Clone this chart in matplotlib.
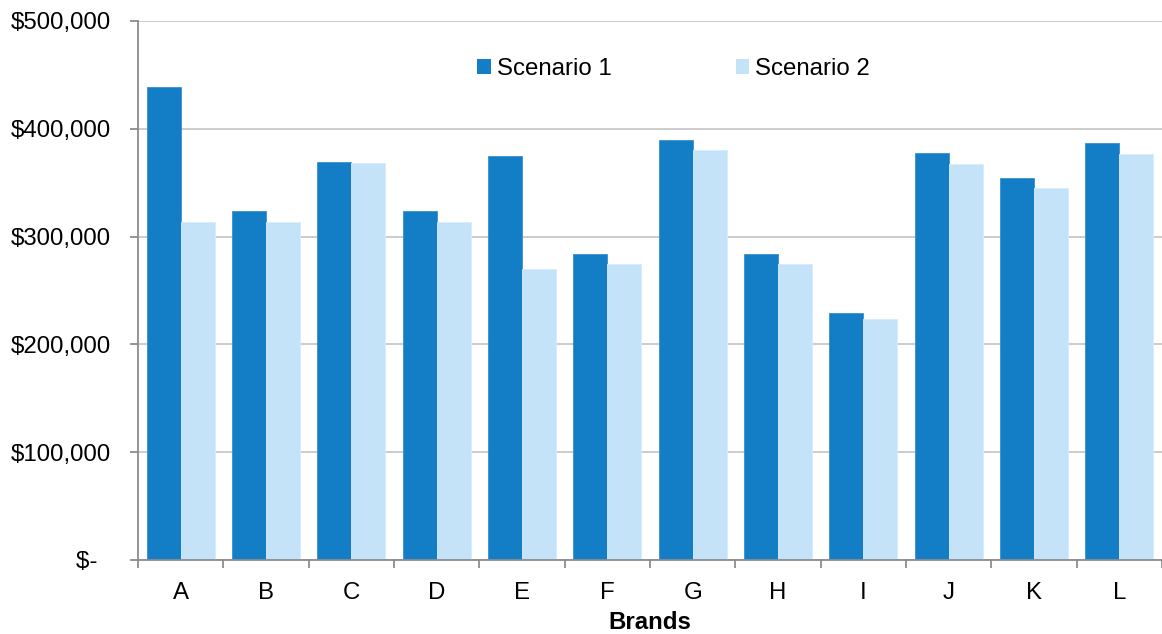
import matplotlib
matplotlib.use("Agg")
import matplotlib.pyplot as plt
import numpy as np
from matplotlib.patches import Patch
from matplotlib.ticker import FuncFormatter, FixedLocator

brands = ["A", "B", "C", "D", "E", "F", "G", "H", "I", "J", "K", "L"]
scenario1 = [438500, 323500, 369000, 323500, 374500, 284000, 390000, 284000, 229000, 377500, 354000, 386500]
scenario2 = [314000, 314000, 368500, 314000, 269500, 274500, 380000, 274500, 223500, 367500, 345000, 376500]
series_names = ["Scenario 1", "Scenario 2"]
colors = ["#137DC6", "#C5E3F8"]

plt.rcParams['font.family'] = ['Liberation Sans', 'DejaVu Sans']
FS = 17.3

fig = plt.figure(figsize=(11.62, 6.34), dpi=100)
ax = fig.add_axes([138/1162, 1-560/634, 1-138/1162, (560-21)/634])

x = np.arange(len(brands))
w = 0.4
ax.bar(x - w/2, scenario1, width=w, color=colors[0], edgecolor="#3a8fd0", linewidth=0.6, zorder=3)
ax.bar(x + w/2, scenario2, width=w, color=colors[1], edgecolor="#d8ecfa", linewidth=0.6, zorder=3)

ax.set_xlim(-0.5, len(brands) - 0.5)
ax.set_ylim(0, 500000)
ax.set_yticks(np.arange(0, 500001, 100000))

def fmt(v, pos):
    if v == 0:
        return "$-  "
    return "${:,.0f}".format(v)
ax.yaxis.set_major_formatter(FuncFormatter(fmt))

ax.set_xticks(x)
ax.set_xticklabels(brands)
ax.xaxis.set_minor_locator(FixedLocator(np.arange(-0.5, len(brands), 1.0)))
ax.tick_params(axis='x', which='major', length=0, pad=16, labelsize=FS)
ax.tick_params(axis='x', which='minor', length=5.5, width=1.3, color="#8c8c8c", direction='out')
ax.tick_params(axis='y', which='major', length=5.5, width=1.3, color="#8c8c8c", pad=14, labelsize=FS)

ax.grid(axis='y', color="#c4c4c4", linewidth=1.2, zorder=0)
ax.set_axisbelow(True)
for s in ["top", "right"]:
    ax.spines[s].set_visible(False)
for s in ["left", "bottom"]:
    ax.spines[s].set_color("#8c8c8c")
    ax.spines[s].set_linewidth(1.3)
    ax.spines[s].set_zorder(4)

ax.set_xlabel("Brands", fontsize=FS, fontweight='bold', labelpad=5)

handles = [Patch(facecolor=c, edgecolor='none') for c in colors]
ax.legend(handles, series_names, loc='center', bbox_to_anchor=(0.523, 0.911),
          ncol=2, frameon=False, fontsize=FS, handlelength=0.57, handleheight=0.57,
          handletextpad=0.25, columnspacing=5.17, borderpad=0)

fig.savefig("out.png", dpi=100)
